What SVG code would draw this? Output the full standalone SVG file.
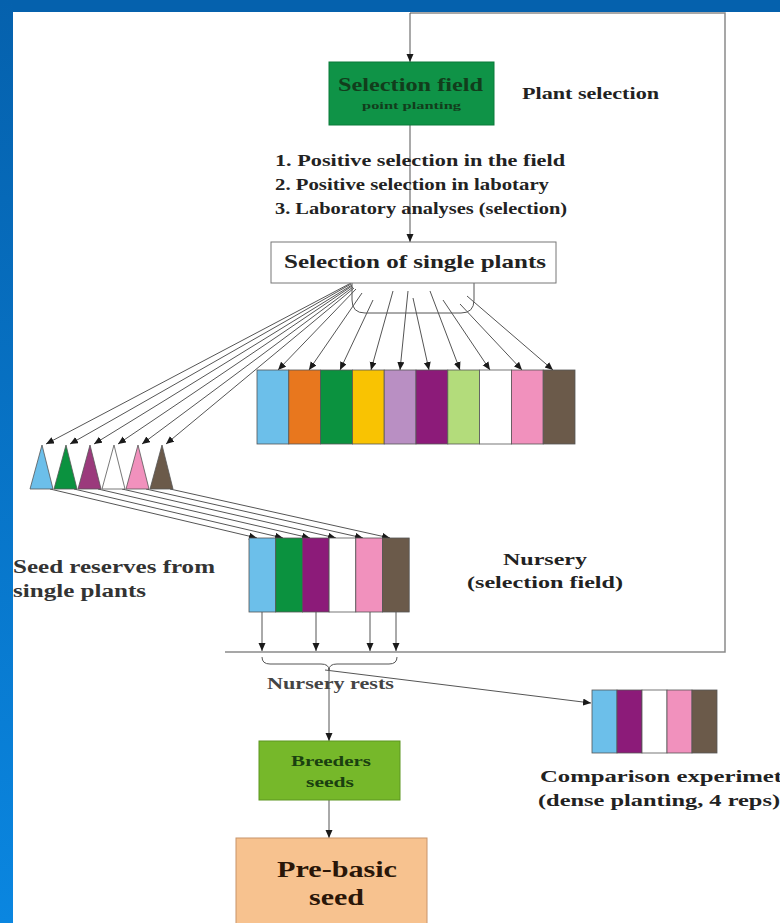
<svg xmlns="http://www.w3.org/2000/svg" width="780" height="923" viewBox="0 0 780 923">
<defs>
<linearGradient id="lg" x1="0" y1="0" x2="0" y2="1">
<stop offset="0" stop-color="#0561ad"/>
<stop offset="1" stop-color="#0a86e0"/>
</linearGradient>
<marker id="ah" markerUnits="userSpaceOnUse" markerWidth="9" markerHeight="8" refX="8" refY="3.5" orient="auto">
<path d="M0,0 L8,3.5 L0,7 z" fill="#1a1a1a"/>
</marker>
<style>
text{font-family:"Liberation Serif","Times New Roman",serif;font-weight:bold;fill:#222}
.ln{stroke:#555;stroke-width:1;fill:none}
.ar{stroke:#555;stroke-width:1;fill:none;marker-end:url(#ah)}
.fr{stroke:#8a8a8a;stroke-width:1.5;fill:none}
.bar{stroke:#555;stroke-width:0.8}
</style>
</defs>
<rect x="0" y="0" width="780" height="923" fill="#fff"/>
<rect x="0" y="0" width="780" height="12" fill="#0561ad"/>
<rect x="0" y="0" width="13" height="923" fill="url(#lg)"/>

<g id="connectors">
<polyline class="fr" points="410,13 725,13 725,652 225,652"/>
<line class="ar" x1="410" y1="13" x2="410" y2="62"/>
<line class="ar" x1="410" y1="125" x2="410" y2="242"/>
<path class="ln" d="M352,283 V300 Q352,313 365,313 H461 Q474,313 474,300 V283"/>
<line class="ar" x1="356" y1="289" x2="278" y2="370"/>
<line class="ar" x1="362" y1="293" x2="309" y2="370"/>
<line class="ar" x1="373" y1="300" x2="340" y2="370"/>
<line class="ar" x1="393" y1="291" x2="371" y2="370"/>
<line class="ar" x1="408" y1="291" x2="400" y2="370"/>
<line class="ar" x1="413" y1="298" x2="429" y2="370"/>
<line class="ar" x1="430" y1="291" x2="460" y2="370"/>
<line class="ar" x1="443" y1="300" x2="490" y2="370"/>
<line class="ar" x1="460" y1="304" x2="522" y2="370"/>
<line class="ar" x1="467" y1="296" x2="553" y2="370"/>
<line class="ar" x1="351" y1="283" x2="46" y2="444"/>
<line class="ar" x1="351" y1="284" x2="70" y2="444"/>
<line class="ar" x1="352" y1="285" x2="94" y2="444"/>
<line class="ar" x1="352" y1="286" x2="118" y2="444"/>
<line class="ar" x1="353" y1="287" x2="142" y2="444"/>
<line class="ar" x1="354" y1="288" x2="166" y2="444"/>
<line class="ar" x1="50" y1="489" x2="257" y2="538"/>
<line class="ar" x1="74" y1="489" x2="283" y2="538"/>
<line class="ar" x1="98" y1="489" x2="310" y2="538"/>
<line class="ar" x1="122" y1="489" x2="336" y2="538"/>
<line class="ar" x1="146" y1="489" x2="363" y2="538"/>
<line class="ar" x1="170" y1="489" x2="390" y2="538"/>
<line class="ar" x1="262" y1="612" x2="262" y2="651"/>
<line class="ar" x1="316" y1="612" x2="316" y2="651"/>
<line class="ar" x1="370" y1="612" x2="370" y2="651"/>
<line class="ar" x1="396" y1="612" x2="396" y2="651"/>
<path class="ln" d="M262,657 Q262,664 270,664 H321 Q329,664 329,670 Q329,664 337,664 H389 Q397,664 397,657"/>
<line class="ar" x1="329" y1="668" x2="329" y2="741"/>
<line class="ar" x1="325" y1="670" x2="591" y2="703"/>
<line class="ar" x1="329" y1="800" x2="329" y2="838"/>
</g>

<g id="selection-field">
<rect x="329" y="62" width="165" height="63" fill="#0f9347" stroke="#0b7a3a"/>
<text x="338" y="91" font-size="19" textLength="145" lengthAdjust="spacingAndGlyphs" style="fill:#123d1c">Selection field</text>
<text x="362" y="109" font-size="10" textLength="99" lengthAdjust="spacingAndGlyphs" style="fill:#123d1c">point planting</text>
</g>
<g id="plant-selection-label">
<text x="522" y="99" font-size="17" textLength="137" lengthAdjust="spacingAndGlyphs">Plant selection</text>
</g>
<g id="steps">
<text x="275" y="166" font-size="17" textLength="290" lengthAdjust="spacingAndGlyphs">1. Positive selection in the field</text>
<text x="275" y="190" font-size="17" textLength="274" lengthAdjust="spacingAndGlyphs">2. Positive selection in labotary</text>
<text x="275" y="214" font-size="17" textLength="292" lengthAdjust="spacingAndGlyphs">3. Laboratory analyses (selection)</text>
</g>
<g id="single-plants">
<rect x="271" y="242" width="285" height="41" fill="#fff" stroke="#777"/>
<text x="284" y="268" font-size="19" textLength="262" lengthAdjust="spacingAndGlyphs">Selection of single plants</text>
</g>
<g id="bars10">
<rect class="bar" x="257" y="370" width="31.8" height="74" fill="#6cbfea"/>
<rect class="bar" x="288.8" y="370" width="31.8" height="74" fill="#e8771e"/>
<rect class="bar" x="320.6" y="370" width="31.8" height="74" fill="#0b923f"/>
<rect class="bar" x="352.4" y="370" width="31.8" height="74" fill="#f9c302"/>
<rect class="bar" x="384.2" y="370" width="31.8" height="74" fill="#b98fc3"/>
<rect class="bar" x="416" y="370" width="31.8" height="74" fill="#8c1b79"/>
<rect class="bar" x="447.8" y="370" width="31.8" height="74" fill="#b3dc7b"/>
<rect class="bar" x="479.6" y="370" width="31.8" height="74" fill="#ffffff"/>
<rect class="bar" x="511.4" y="370" width="31.8" height="74" fill="#f191bd"/>
<rect class="bar" x="543.2" y="370" width="31.8" height="74" fill="#6b5a4a"/>
</g>
<g id="seed-reserves">
<polygon class="bar" points="30,489 42,445 53,489" fill="#6cbfea"/>
<polygon class="bar" points="54,489 66,445 77,489" fill="#0b923f"/>
<polygon class="bar" points="78,489 90,445 101,489" fill="#9b3a7c"/>
<polygon class="bar" points="102,489 114,445 125,489" fill="#ffffff"/>
<polygon class="bar" points="126,489 138,445 149,489" fill="#f191bd"/>
<polygon class="bar" points="150,489 162,445 173,489" fill="#6b5a4a"/>
</g>
<g id="seed-reserves-label">
<text x="13" y="573" font-size="18" textLength="202" lengthAdjust="spacingAndGlyphs" style="fill:#333">Seed reserves from</text>
<text x="13" y="597" font-size="18" textLength="133" lengthAdjust="spacingAndGlyphs" style="fill:#333">single plants</text>
</g>
<g id="nursery-bars">
<rect class="bar" x="249" y="538" width="26.7" height="74" fill="#6cbfea"/>
<rect class="bar" x="275.7" y="538" width="26.7" height="74" fill="#0b923f"/>
<rect class="bar" x="302.4" y="538" width="26.7" height="74" fill="#8c1b79"/>
<rect class="bar" x="329.1" y="538" width="26.7" height="74" fill="#ffffff"/>
<rect class="bar" x="355.8" y="538" width="26.7" height="74" fill="#f191bd"/>
<rect class="bar" x="382.5" y="538" width="26.7" height="74" fill="#6b5a4a"/>
</g>
<g id="nursery-label">
<text x="503" y="565" font-size="17" textLength="84" lengthAdjust="spacingAndGlyphs">Nursery</text>
<text x="467" y="588" font-size="17" textLength="156" lengthAdjust="spacingAndGlyphs">(selection field)</text>
</g>
<g id="nursery-rests">
<text x="267" y="689" font-size="16" textLength="127" lengthAdjust="spacingAndGlyphs" style="fill:#444">Nursery rests</text>
</g>
<g id="comparison">
<rect class="bar" x="592" y="690" width="25" height="63" fill="#6cbfea"/>
<rect class="bar" x="617" y="690" width="25" height="63" fill="#8c1b79"/>
<rect class="bar" x="642" y="690" width="25" height="63" fill="#ffffff"/>
<rect class="bar" x="667" y="690" width="25" height="63" fill="#f191bd"/>
<rect class="bar" x="692" y="690" width="25" height="63" fill="#6b5a4a"/>
<text x="540" y="782" font-size="17" textLength="242" lengthAdjust="spacingAndGlyphs">Comparison experimet</text>
<text x="538" y="806" font-size="17" textLength="242" lengthAdjust="spacingAndGlyphs">(dense planting, 4 reps)</text>
</g>
<g id="breeders">
<rect x="259" y="741" width="141" height="59" fill="#76b82a" stroke="#5c9620"/>
<text x="291" y="766" font-size="15" textLength="80" lengthAdjust="spacingAndGlyphs" style="fill:#1a4010">Breeders</text>
<text x="306" y="787" font-size="15" textLength="48" lengthAdjust="spacingAndGlyphs" style="fill:#1a4010">seeds</text>
</g>
<g id="pre-basic">
<rect x="236" y="838" width="191" height="95" fill="#f7c28f" stroke="#c8946a"/>
<text x="277" y="877" font-size="24" textLength="120" lengthAdjust="spacingAndGlyphs" style="fill:#2a1608">Pre-basic</text>
<text x="309" y="905" font-size="24" textLength="55" lengthAdjust="spacingAndGlyphs" style="fill:#2a1608">seed</text>
</g>
</svg>
